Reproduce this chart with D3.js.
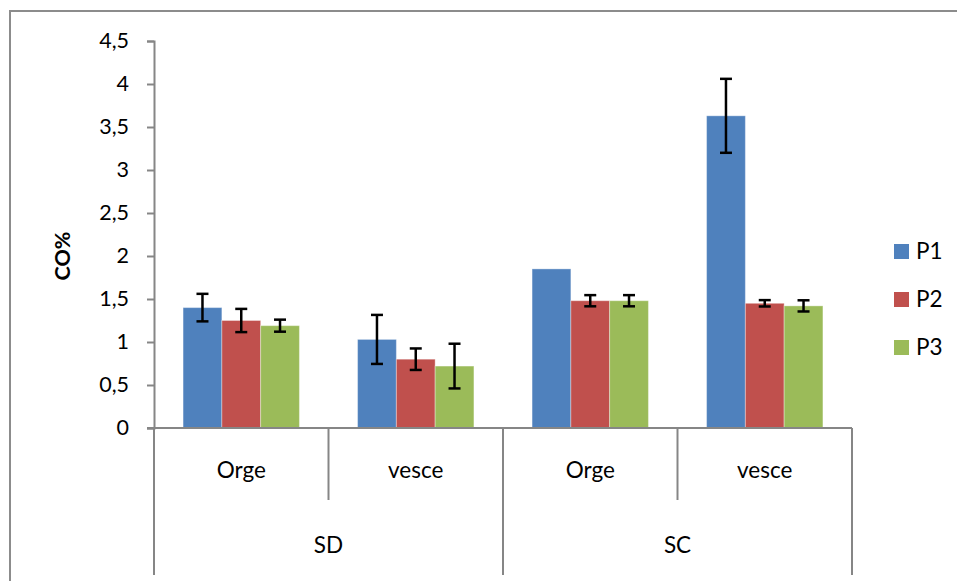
<!DOCTYPE html>
<html>
<head>
<meta charset="utf-8">
<script src="https://cdn.jsdelivr.net/npm/d3@7"></script>
<style>
  body { margin: 0; background: #fff; }
  svg { display: block; font-family: Lato, "Open Sans", sans-serif; }
</style>
</head>
<body>
<svg width="957" height="581"></svg>
<script>
// data
const groups = ["SD", "SC"];
const crops = ["Orge", "vesce"];
const series = ["P1", "P2", "P3"];
const colors = ["#4F81BD", "#C0504D", "#9BBB59"];
// one row per group/crop pair, in the order SD-Orge, SD-vesce, SC-Orge, SC-vesce
const values = [
	[1.40, 1.25, 1.19],
	[1.03, 0.80, 0.72],
	[1.85, 1.48, 1.48],
	[3.63, 1.45, 1.42]
];
const errors = [
	[0.16, 0.135, 0.07],
	[0.285, 0.125, 0.26],
	[null, 0.065, 0.065],
	[0.43, 0.037, 0.065]
];
const yTicks = [0, 0.5, 1, 1.5, 2, 2.5, 3, 3.5, 4, 4.5];

const svg = d3.select("svg");
const plotLeft = 154, plotRight = 852, plotTop = 41, plotBottom = 428;
const axisColor = "#868686";

// outer chart border
svg.append("rect")
	.attr("x", 10).attr("y", 11)
	.attr("width", 1000).attr("height", 700)
	.attr("fill", "none")
	.attr("stroke", "#8c8c8c")
	.attr("stroke-width", 2);

const cats = [];
groups.forEach(g => crops.forEach(c => cats.push(g + "|" + c)));

const x0 = d3.scaleBand().domain(cats).range([plotLeft, plotRight]);
const bw = x0.bandwidth();
const barW = bw / 4.5;
const x1 = d3.scaleBand().domain(series).range([barW * 0.75, bw - barW * 0.75]);
const y = d3.scaleLinear().domain([0, 4.5]).range([plotBottom, plotTop]);

const fmt = d => String(d).replace(".", ",");

// y axis
const yAxis = svg.append("g")
	.attr("transform", `translate(${plotLeft},0)`)
	.call(d3.axisLeft(y).tickValues(yTicks).tickFormat(fmt).tickSize(7).tickPadding(18));
yAxis.select(".domain").attr("stroke", axisColor).attr("stroke-width", 2);
yAxis.selectAll(".tick line").attr("stroke", axisColor).attr("stroke-width", 2);
yAxis.selectAll(".tick text")
	.attr("font-family", "Lato, sans-serif")
	.attr("font-size", 21.5)
	.attr("fill", "#000");

svg.append("text")
	.attr("transform", `translate(70,256) rotate(-90)`)
	.attr("text-anchor", "middle")
	.attr("font-size", 21.5)
	.attr("font-weight", "bold")
	.text("CO%");

// bars
const cat = svg.append("g").selectAll("g")
	.data(cats).enter().append("g")
	.attr("transform", d => `translate(${x0(d)},0)`);

cat.selectAll("rect")
	.data((d, i) => values[i].map((v, j) => ({ s: series[j], v: v, c: colors[j] })))
	.enter().append("rect")
	.attr("x", d => x1(d.s))
	.attr("y", d => y(d.v))
	.attr("width", x1.bandwidth())
	.attr("height", d => y(0) - y(d.v))
	.attr("fill", d => d.c)
	.attr("stroke", "rgba(255,255,255,0.35)")
	.attr("stroke-width", 1);

// error bars
const errData = [];
cats.forEach((c, i) => values[i].forEach((v, j) => {
	if (errors[i][j] != null) errData.push({ c: c, s: series[j], v: v, e: errors[i][j] });
}));
const eb = svg.append("g").selectAll("g")
	.data(errData).enter().append("g")
	.attr("stroke", "#000")
	.attr("stroke-width", 2.5);
const cx = d => x0(d.c) + x1(d.s) + x1.bandwidth() / 2;
eb.append("line")
	.attr("x1", cx).attr("x2", cx)
	.attr("y1", d => y(d.v + d.e)).attr("y2", d => y(d.v - d.e));
eb.append("line")
	.attr("x1", d => cx(d) - 6).attr("x2", d => cx(d) + 6)
	.attr("y1", d => y(d.v + d.e)).attr("y2", d => y(d.v + d.e));
eb.append("line")
	.attr("x1", d => cx(d) - 6).attr("x2", d => cx(d) + 6)
	.attr("y1", d => y(d.v - d.e)).attr("y2", d => y(d.v - d.e));

// x axis: baseline and category dividers
const xg = svg.append("g").attr("stroke", axisColor).attr("stroke-width", 2);
xg.append("line")
	.attr("x1", plotLeft - 7).attr("x2", plotRight)
	.attr("y1", plotBottom).attr("y2", plotBottom);
const bounds = cats.map(d => x0(d)).concat([plotRight]);
xg.selectAll(".div")
	.data(bounds).enter().append("line")
	.attr("x1", d => d).attr("x2", d => d)
	.attr("y1", plotBottom)
	.attr("y2", (d, i) => i % 2 === 0 ? 575 : 500);

svg.append("g").selectAll("text")
	.data(cats).enter().append("text")
	.attr("x", d => x0(d) + bw / 2)
	.attr("y", 478)
	.attr("text-anchor", "middle")
	.attr("font-size", 22.5)
	.text(d => d.split("|")[1]);

svg.append("g").selectAll("text")
	.data(groups).enter().append("text")
	.attr("x", (d, i) => x0(d + "|" + crops[0]) + bw)
	.attr("y", 553)
	.attr("text-anchor", "middle")
	.attr("font-size", 22.5)
	.text(d => d);

// legend
const leg = svg.append("g").selectAll("g")
	.data(series).enter().append("g")
	.attr("transform", (d, i) => `translate(894,${244 + i * 48})`);
leg.append("rect")
	.attr("width", 15).attr("height", 15)
	.attr("fill", (d, i) => colors[i]);
leg.append("text")
	.attr("x", 22).attr("y", 15)
	.attr("font-size", 22.5)
	.text(d => d);
</script>
</body>
</html>
